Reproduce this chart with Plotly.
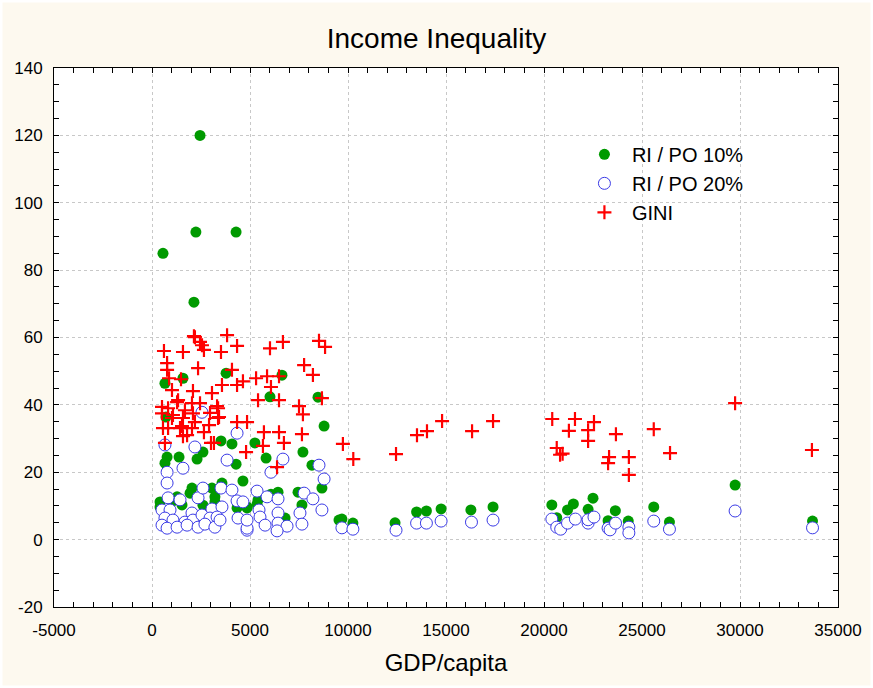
import plotly.graph_objects as go

# RI / PO 10%
g10_x = [2450, 560, 2240, 4290, 2140, 3780, 6630, 1580, 660, 6020, 8470, 710, 8780, 3520, 4080,
         5250, 2600, 1380, 770, 2300, 5820, 7700, 4290, 8160, 8670, 4640, 660, 3570, 2040, 1940,
         3060, 3210, 3210, 1280, 410, 410, 1530, 1070, 4340, 4850, 4850, 6430, 7450, 5410, 7650,
         6790, 5360, 6070, 2600, 900, 9540, 9690, 10250, 12400, 13500, 14000, 14750, 16270, 17400,
         20400, 20650, 21200, 21500, 22250, 22500, 23270, 23640, 24300, 25600, 26400, 29750, 33700]
g10_y = [120, 85, 91.3, 91.3, 70.5, 49.4, 48.8, 47.9, 46.4, 42.4, 42.3, 36.4, 33.7, 29.3, 28.4,
         28.7, 26, 24.5, 24.5, 23.9, 24.2, 26, 22.4, 22.1, 15.3, 17.4, 22.7, 16.8, 15.3, 13.8,
         15.3, 12.7, 11.2, 12.7, 11.2, 9.7, 10.3, 11.5, 9.4, 9.7, 9.4, 14.1, 14.1, 11.8, 10.3,
         6.4, 10.5, 13.5, 10.2, 12.0, 5.8, 6.1, 4.9, 5.0, 8.2, 8.5, 9.1, 8.8, 9.7,
         10.3, 6.5, 8.8, 10.6, 9.0, 12.3, 5.6, 8.6, 5.5, 9.7, 5.2, 16.2, 5.5]

# RI / PO 20%
g20_x = [2550, 660, 2190, 4340, 3830, 6680, 6070, 8520, 8780, 1580, 770, 770, 820, 1430, 2350,
         2600, 3520, 4080, 4340, 510, 920, 2040, 3060, 3570, 660, 1070, 1680, 2090, 2550, 2960,
         3320, 510, 770, 1280, 1790, 2350, 2700, 3210, 3470, 4390, 4850, 4640, 5360, 5870, 6430,
         7760, 8210, 8670, 5460, 5510, 6430, 7550, 5770, 6430, 6890, 6380, 7650, 4850, 4850,
         9690, 10250, 12450, 13500, 14000, 14750, 16300, 17400, 20400, 20650, 20850, 21200, 21600,
         22250, 22250, 22550, 23270, 23370, 23650, 24330, 24330, 25600, 26400, 29750, 33700]
g20_y = [37.8, 28.1, 27.5, 31.6, 23.6, 23.9, 20, 22.1, 18, 21.2, 20, 16.8, 12.4, 11.8, 12.4,
         15.3, 15.3, 14.7, 11.5, 8.8, 8.8, 7.9, 9.1, 9.7, 6.4, 5.8, 5.2, 5.8, 7.3, 6.4,
         6.7, 4.3, 3.4, 3.7, 4.3, 3.7, 4.6, 3.7, 5.8, 6.4, 2.8, 11.2, 14.4, 12.7, 12.1,
         13.8, 12.1, 8.8, 8.8, 6.7, 7.9, 7.9, 4.3, 4.9, 4.0, 2.6, 4.6, 3.4, 5.8,
         3.5, 3.1, 2.8, 4.9, 4.9, 5.5, 5.2, 5.8, 6.1, 3.7, 3.1, 4.9, 6.1,
         4.9, 5.9, 6.7, 3.4, 2.9, 4.9, 3.7, 2.0, 5.5, 3.1, 8.5, 3.5]

# GINI
gini_x = [2140, 3830, 2190, 2450, 2550, 2650, 4340, 610, 1580, 3520, 6020, 6680, 8520, 8830,
          770, 770, 2350, 4080, 7760, 8210, 870, 1480, 1020, 3570, 4340, 4640, 5310, 5870, 6480,
          6070, 2090, 3060, 5410, 6480, 8670, 7500, 7700, 3320, 3420, 2910, 4340, 4850, 5710,
          6480, 7650, 2650, 5660, 6730, 4800, 3160, 3010, 6380, 660, 560, 510, 820, 510, 1070,
          1330, 1280, 1680, 2040, 2450, 2090, 1580, 2190, 1530, 2040, 1790, 3370, 2960, 3370,
          1020, 820, 1430, 1580, 9740, 10270, 12450, 13520, 14030, 14800, 16330, 17400, 20420,
          21580, 21270, 22550, 22250, 22250, 23670, 20650, 20820, 20950, 23320, 23270, 24330,
          24330, 25600, 26430, 29750, 33670]
gini_y = [60.4, 60.7, 60.1, 58.7, 57.7, 56.3, 57.5, 56, 55.7, 55.7, 56.8, 58.7, 59, 57.2,
          52.4, 50.4, 50.9, 50.4, 51.8, 48.9, 47.9, 47.6, 44.4, 45.9, 45.9, 47, 47.9, 48.5, 48.5,
          45.3, 44.1, 43.5, 41.4, 41.4, 42, 39.6, 37.2, 39.6, 36.4, 34, 34.9, 34.9, 31.9,
          31.9, 31.3, 31.9, 27.8, 28.7, 26, 28.7, 28.7, 21.5, 28.7, 33.1, 39.4, 39, 37.5, 37,
          41.4, 40.8, 38.4, 40.5, 40.5, 37.5, 36.1, 34.9, 33.7, 33.1, 31, 39, 37.6, 36.1,
          36.1, 33.1, 33.1, 30.7, 28.4, 23.9, 25.4, 31, 32.2, 35.2, 32.2, 35.2, 35.8,
          35.8, 32.3, 34.9, 32.5, 29.3, 31.3, 27.2, 25.2, 25.5, 24.5, 22.7, 24.5,
          19.2, 32.8, 25.7, 40.5, 26.6]

x_ticks = [-5000, 0, 5000, 10000, 15000, 20000, 25000, 30000, 35000]
y_ticks = [-20, 0, 20, 40, 60, 80, 100, 120, 140]

FONT = "Liberation Sans, Arial, sans-serif"
W, H = 873, 688
ML, MR, MT, MB = 54, 35, 68, 81
PW, PH = W - ML - MR, H - MT - MB

fig = go.Figure()
fig.add_trace(go.Scatter(x=g10_x, y=g10_y, mode="markers", name="RI / PO 10%",
                         marker=dict(symbol="circle", size=11, color="#009A00",
                                     line=dict(width=0))))
fig.add_trace(go.Scatter(x=g20_x, y=g20_y, mode="markers", name="RI / PO 20%",
                         marker=dict(symbol="circle", size=12, color="white",
                                     line=dict(width=1, color="#3A3AE6"))))
fig.add_trace(go.Scatter(x=gini_x, y=gini_y, mode="markers", name="GINI",
                         marker=dict(symbol="cross-thin", size=10, color="#FF0000",
                                     line=dict(width=2.2, color="#FF0000"))))

axis_common = dict(
    showline=True, linecolor="black", linewidth=1, mirror="allticks",
    ticks="inside", ticklen=5, tickcolor="black",
    showgrid=True, gridcolor="#C8C8C8", griddash="dot", gridwidth=1,
    zeroline=False, tickfont=dict(family=FONT, size=17, color="black"),
)

fig.update_xaxes(range=[-5000, 35000], tickvals=x_ticks, ticktext=[str(v) for v in x_ticks],
                 ticklabelstandoff=8,
                 minor=dict(dtick=1000, tick0=0, ticks="inside", ticklen=5, tickcolor="black", showgrid=False),
                 title=dict(text="GDP/capita", font=dict(family=FONT, size=24, color="black"), standoff=14),
                 **axis_common)
fig.update_yaxes(range=[-20, 140], tickvals=y_ticks, ticktext=[str(v) for v in y_ticks],
                 ticklabelstandoff=7,
                 minor=dict(dtick=5, tick0=0, ticks="inside", ticklen=5, tickcolor="black", showgrid=False),
                 **axis_common)

# white frame around the whole picture
fig.add_shape(type="rect", xref="paper", yref="paper",
              x0=-ML / PW, x1=(W - ML) / PW, y0=-MB / PH, y1=(H - MB) / PH,
              line=dict(color="white", width=5), fillcolor="rgba(0,0,0,0)", layer="above")

fig.update_layout(
    width=W, height=H,
    margin=dict(l=ML, r=MR, t=MT, b=MB),
    paper_bgcolor="#FDF9EF", plot_bgcolor="white",
    title=dict(text="Income Inequality", x=0.5, xanchor="center", y=0.945, yanchor="middle",
               font=dict(family=FONT, size=28, color="black")),
    showlegend=True,
    legend=dict(x=0.667, y=0.876, xanchor="left", yanchor="top", bgcolor="rgba(0,0,0,0)",
                font=dict(family=FONT, size=20, color="black"), itemsizing="trace",
                itemwidth=45, tracegroupgap=0),
)

fig.write_html("out.html", config={"displayModeBar": False},
               post_script="document.body.style.margin='0px';")
